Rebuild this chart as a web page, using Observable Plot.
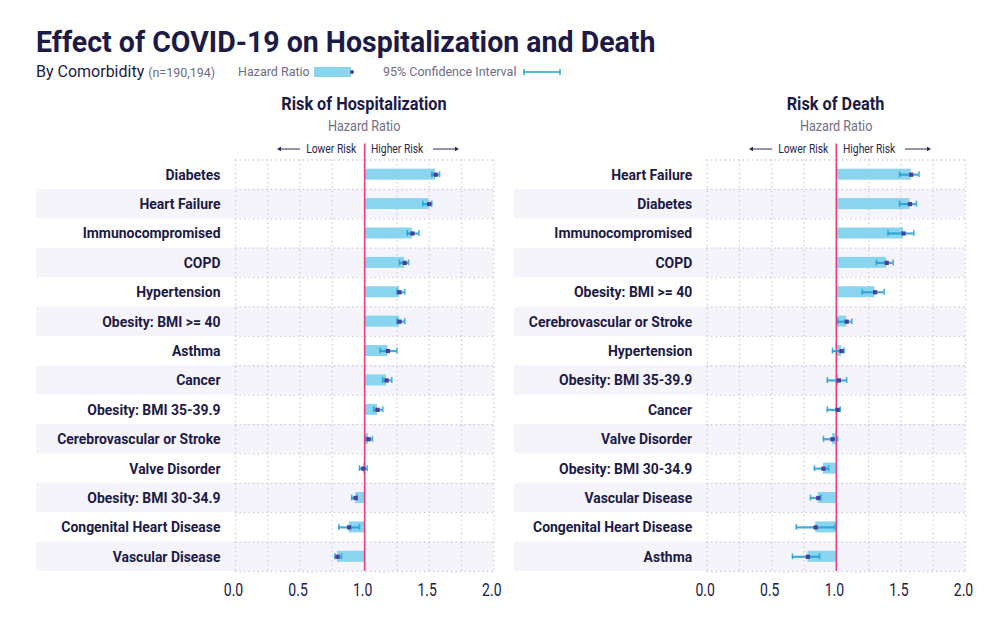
<!DOCTYPE html>
<html>
<head>
<meta charset="utf-8">
<script src="https://cdn.jsdelivr.net/npm/d3@7"></script>
<script src="https://cdn.jsdelivr.net/npm/@observablehq/plot@0.6"></script>
<style>
  body { margin: 0; background: #fff; font-family: Roboto, "Noto Sans", sans-serif; }
  #root { position: relative; width: 1000px; height: 640px; overflow: hidden; background: #fff; }
  .abs { position: absolute; white-space: nowrap; }
  .title { left: 36px; top: 27px; font-size: 30px; line-height: 30px; font-weight: 700; color: #1d1b46;
           transform: scaleX(0.95); transform-origin: left top; }
  .sub { left: 36px; top: 62px; font-size: 16px; line-height: 20px; color: #1d1b46; }
  .sub .n { font-size: 12.5px; color: #6f6b86; }
  .leg { font-size: 12.5px; line-height: 16px; color: #6f6b86; top: 64px; }
  .ptitle { font-size: 18.5px; line-height: 22px; font-weight: 700; color: #1d1b46; text-align: center; top: 93px; }
  .psub { font-size: 14px; line-height: 16px; color: #6f6b86; text-align: center; top: 118px; }
  .risk { font-size: 12px; line-height: 14px; color: #2a2850; top: 142px; }
</style>
</head>
<body>
<div id="root"></div>
<script>
// Hazard ratios and 95% confidence intervals by comorbidity
const hospConditions = ["Diabetes", "Heart Failure", "Immunocompromised", "COPD", "Hypertension",
  "Obesity: BMI >= 40", "Asthma", "Cancer", "Obesity: BMI 35-39.9", "Cerebrovascular or Stroke",
  "Valve Disorder", "Obesity: BMI 30-34.9", "Congenital Heart Disease", "Vascular Disease"];
const hospHR   = [1.55, 1.50, 1.37, 1.31, 1.27, 1.27, 1.18, 1.17, 1.10, 1.03, 0.99, 0.93, 0.88, 0.79];
const hospLow  = [1.52, 1.45, 1.33, 1.27, 1.25, 1.25, 1.12, 1.14, 1.07, 1.01, 0.96, 0.90, 0.80, 0.77];
const hospHigh = [1.58, 1.52, 1.42, 1.34, 1.31, 1.31, 1.25, 1.21, 1.14, 1.06, 1.02, 0.94, 0.96, 0.82];

const deathConditions = ["Heart Failure", "Diabetes", "Immunocompromised", "COPD", "Obesity: BMI >= 40",
  "Cerebrovascular or Stroke", "Hypertension", "Obesity: BMI 35-39.9", "Cancer", "Valve Disorder",
  "Obesity: BMI 30-34.9", "Vascular Disease", "Congenital Heart Disease", "Asthma"];
const deathHR   = [1.58, 1.57, 1.52, 1.39, 1.30, 1.08, 1.04, 1.02, 1.01, 0.97, 0.90, 0.86, 0.84, 0.78];
const deathLow  = [1.49, 1.49, 1.40, 1.31, 1.20, 1.01, 0.97, 0.93, 0.93, 0.90, 0.83, 0.80, 0.69, 0.66];
const deathHigh = [1.64, 1.62, 1.60, 1.44, 1.37, 1.12, 1.06, 1.08, 1.03, 1.01, 0.94, 0.88, 0.99, 0.87];

const xTicks = [0, 0.5, 1, 1.5, 2];
const gridTicks = [0, 0.25, 0.5, 0.75, 1.25, 1.5, 1.75, 2];
const reference = [1];

const NAVY = "#1d1b46", GREY = "#6f6b86", BAND = "#f5f4fb", BAR = "#89d4ef",
      CI = "#1ea0d5", POINT = "#4c3d9e", REF = "#f03a74", GRID = "#c9c8d2";

const root = document.getElementById("root");

// Header: title, subtitle and legend
root.insertAdjacentHTML("beforeend", `
  <div class="abs title">Effect of COVID-19 on Hospitalization and Death</div>
  <div class="abs sub">By Comorbidity <span class="n">(n=190,194)</span></div>
  <div class="abs leg" style="left:238px">Hazard Ratio</div>
  <svg class="abs" style="left:312px;top:64px" width="46" height="16">
    <rect x="2" y="3" width="37" height="10" fill="${BAR}"/>
    <circle cx="40" cy="8" r="2" fill="${POINT}"/>
  </svg>
  <div class="abs leg" style="left:383px">95% Confidence Interval</div>
  <svg class="abs" style="left:520px;top:64px" width="46" height="16">
    <line x1="4" x2="40" y1="8" y2="8" stroke="${CI}" stroke-width="1.6"/>
    <line x1="4" x2="4" y1="5" y2="11" stroke="${CI}" stroke-width="1.4"/>
    <line x1="40" x2="40" y1="5" y2="11" stroke="${CI}" stroke-width="1.4"/>
  </svg>
`);

const FRAME_TOP = 159.5, FRAME_H = 411.5, MB = 40, SVG_TOP = 135, MR = 12, PLOT_W = 258.3;

function panel({title, conds, hr, lo, hi, left, marginLeft}) {
  const rows = conds.map((c, i) => ({c, hr: hr[i], lo: lo[i], hi: hi[i], i}));
  const striped = rows.filter(d => d.i % 2 === 1);
  const rowH = FRAME_H / conds.length;
  const marginTop = FRAME_TOP - SVG_TOP;
  const width = marginLeft + PLOT_W + MR;
  const capInset = (rowH - 6) / 2;
  const barInset = (rowH - 11) / 2;

  const chart = Plot.plot({
    width,
    height: marginTop + FRAME_H + MB,
    marginLeft, marginRight: MR, marginTop, marginBottom: MB,
    style: {fontFamily: "Roboto, sans-serif", background: "transparent", color: NAVY, overflow: "visible"},
    x: {domain: [0, 2], axis: null},
    y: {domain: conds, padding: 0, round: false, axis: null},
    marks: [
      // alternating row stripes, running under the labels
      Plot.barX(striped, {y: "c", x1: 0, x2: 2, fill: BAND, insetLeft: -marginLeft}),
      // dotted grid
      Plot.ruleX(gridTicks, {stroke: GRID, strokeDasharray: "1.3,3.2", strokeWidth: 1.3}),
      Plot.ruleY(conds, {y: d => d, x1: 0, x2: 2, dy: -rowH / 2, stroke: GRID, strokeDasharray: "1.3,3.2", strokeWidth: 1.3}),
      Plot.ruleY(conds.slice(-1), {y: d => d, x1: 0, x2: 2, dy: rowH / 2, stroke: GRID, strokeDasharray: "1.3,3.2", strokeWidth: 1.3}),
      // hazard ratio bars from the no-effect line
      Plot.barX(rows, {y: "c", x1: 1, x2: "hr", fill: BAR, insetTop: barInset, insetBottom: barInset}),
      // reference line at HR = 1
      Plot.ruleX(reference, {stroke: REF, strokeWidth: 1.6, insetTop: -16}),
      // 95% confidence intervals
      Plot.ruleY(rows, {y: "c", x1: "lo", x2: "hi", stroke: CI, strokeWidth: 2.2, strokeOpacity: 0.85}),
      Plot.tickX(rows, {y: "c", x: "lo", stroke: CI, strokeWidth: 1.6, strokeOpacity: 0.8, insetTop: capInset, insetBottom: capInset}),
      Plot.tickX(rows, {y: "c", x: "hi", stroke: CI, strokeWidth: 1.6, strokeOpacity: 0.8, insetTop: capInset, insetBottom: capInset}),
      // point estimate
      Plot.dot(rows, {y: "c", x: "hr", symbol: "square", r: 2.4, fill: POINT}),
      Plot.axisX({ticks: xTicks, tickFormat: d3.format(".1f"), tickSize: 0, tickPadding: 12, fontSize: 17.5, dx: -2, label: null}),
      Plot.axisY({tickSize: 0, tickPadding: 15, fontSize: 15.5, fontWeight: "bold", label: null})
    ]
  });
  chart.style.position = "absolute";
  chart.style.left = left + "px";
  chart.style.top = SVG_TOP + "px";
  root.appendChild(chart);

  // narrower letterforms for the axis labels
  chart.querySelectorAll('[aria-label="y-axis tick label"] text').forEach(t => {
    t.setAttribute("font-weight", "bold");
    const tr = t.getAttribute("transform");
    if (tr) t.setAttribute("transform", tr + " scale(0.9,1)");
  });
  chart.querySelectorAll('[aria-label="x-axis tick label"] text').forEach(t => {
    const tr = t.getAttribute("transform");
    if (tr) t.setAttribute("transform", tr + " scale(0.8,1)");
  });

  // panel heading centred over the plot area
  const cx = left + marginLeft + PLOT_W / 2;
  root.insertAdjacentHTML("beforeend", `
    <div class="abs ptitle" style="left:${cx - 150}px;width:300px"><span style="display:inline-block;transform:scaleX(0.88)">${title}</span></div>
    <div class="abs psub" style="left:${cx - 100}px;width:200px"><span style="display:inline-block;transform:scaleX(0.9)">Hazard Ratio</span></div>
    <div class="abs risk" style="right:${1000 - (cx - 8)}px;transform:scaleX(0.86);transform-origin:right center">Lower Risk</div>
    <div class="abs risk" style="left:${cx + 7}px;transform:scaleX(0.86);transform-origin:left center">Higher Risk</div>
    <svg class="abs" style="left:${cx - 88}px;top:143px" width="26" height="12">
      <line x1="3" x2="24" y1="6" y2="6" stroke="#2a2850" stroke-width="1"/>
      <path d="M1,6 L5,3.8 L5,8.2 Z" fill="#2a2850"/>
    </svg>
    <svg class="abs" style="left:${cx + 67}px;top:143px" width="30" height="12">
      <line x1="2" x2="26" y1="6" y2="6" stroke="#2a2850" stroke-width="1"/>
      <path d="M28,6 L24,3.8 L24,8.2 Z" fill="#2a2850"/>
    </svg>
  `);
}

panel({title: "Risk of Hospitalization", conds: hospConditions, hr: hospHR, lo: hospLow, hi: hospHigh,
       left: 36, marginLeft: 199});
panel({title: "Risk of Death", conds: deathConditions, hr: deathHR, lo: deathLow, hi: deathHigh,
       left: 514, marginLeft: 192.7});
</script>
</body>
</html>
